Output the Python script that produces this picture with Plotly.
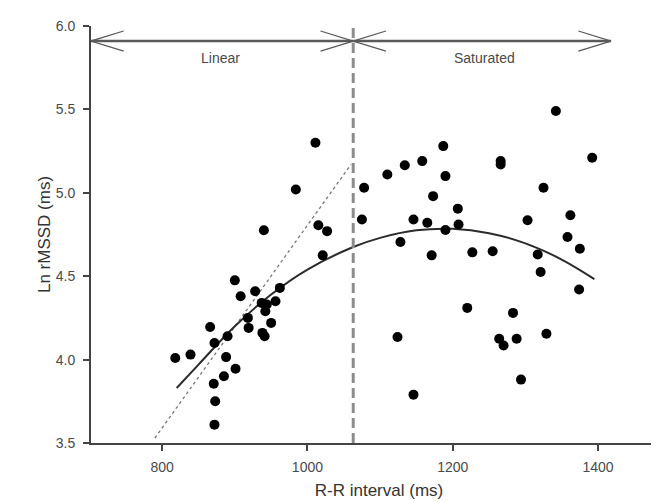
import plotly.graph_objects as go

# scatter data
rr_interval = [818, 839, 866, 872, 871, 873, 872, 885, 888, 890,
               900, 901, 908, 918, 919, 928, 937, 944, 942, 938,
               941, 950, 956, 962, 940, 984, 1011, 1015, 1027, 1021,
               1075, 1078, 1110, 1124, 1128, 1134, 1146, 1146, 1158, 1165,
               1171, 1173, 1187, 1190, 1190, 1207, 1208, 1220, 1227, 1255,
               1264, 1266, 1266, 1270, 1283, 1288, 1294, 1303, 1317, 1321,
               1325, 1329, 1342, 1358, 1362, 1374, 1375, 1392]
ln_rmssd = [4.01, 4.03, 4.195, 4.10, 3.855, 3.75, 3.61, 3.90, 4.015, 4.14,
            4.475, 3.945, 4.38, 4.25, 4.19, 4.41, 4.34, 4.33, 4.29, 4.16,
            4.14, 4.22, 4.35, 4.43, 4.775, 5.02, 5.30, 4.805, 4.77, 4.625,
            4.84, 5.03, 5.11, 4.135, 4.705, 5.165, 4.84, 3.79, 5.19, 4.82,
            4.625, 4.98, 5.28, 5.10, 4.777, 4.905, 4.81, 4.31, 4.643, 4.65,
            4.125, 5.19, 5.17, 4.085, 4.28, 4.125, 3.88, 4.835, 4.63, 4.525,
            5.03, 4.155, 5.49, 4.735, 4.865, 4.42, 4.665, 5.21]

# quadratic fit curve
curve_x = [820, 850, 900, 950, 1000, 1063, 1100, 1150, 1200, 1250, 1300, 1350, 1395]
curve_y = [3.83, 3.97, 4.20, 4.39, 4.54, 4.675, 4.73, 4.775, 4.784, 4.758, 4.697, 4.60, 4.483]

# linear fit (dotted), end points
linear_x = [790, 1060]
linear_y = [3.53, 5.17]

breakpoint_x = 1063
x_left, x_right_arrow = 702, 1418
arrow_y = 5.91
region_labels = ["Linear", "Saturated"]
region_label_x = [880, 1244]

x_ticks = [800, 1000, 1200, 1400]
y_ticks = [3.5, 4.0, 4.5, 5.0, 5.5, 6.0]

fig = go.Figure()

fig.add_trace(go.Scatter(
    x=linear_x, y=linear_y, mode="lines",
    line=dict(color="#777777", width=1.3, dash="dot"),
    hoverinfo="skip",
))
fig.add_trace(go.Scatter(
    x=curve_x, y=curve_y, mode="lines",
    line=dict(color="#2b2b2b", width=2, shape="spline"),
    hoverinfo="skip",
))
fig.add_trace(go.Scatter(
    x=rr_interval, y=ln_rmssd, mode="markers",
    marker=dict(color="black", size=10),
))

# vertical breakpoint
fig.add_shape(type="line", x0=breakpoint_x, x1=breakpoint_x, y0=3.5, y1=6.02,
              line=dict(color="#8c8c8c", width=3, dash="10px,5px"))

# double-headed arrows at the top, open heads
head_dx, head_dy = 45, 0.06
for a, b in [(x_left, breakpoint_x), (breakpoint_x, x_right_arrow)]:
    fig.add_shape(type="line", x0=a, x1=b, y0=arrow_y, y1=arrow_y,
                  line=dict(color="#5a5a5a", width=2.5))
    for tip, sign in [(a, 1), (b, -1)]:
        for s in (1, -1):
            fig.add_shape(type="line", x0=tip, y0=arrow_y,
                          x1=tip + sign * head_dx, y1=arrow_y + s * head_dy,
                          line=dict(color="#5a5a5a", width=1.3))

for label, lx in zip(region_labels, region_label_x):
    fig.add_annotation(x=lx, y=5.81, text=label, showarrow=False,
                       font=dict(size=14, color="#4a4a4a"))

axis_style = dict(
    showline=True, linecolor="#444444", linewidth=2,
    ticks="outside", ticklen=6, tickwidth=1.5, tickcolor="#444444",
    showgrid=False, zeroline=False,
    tickfont=dict(size=14, color="#4a4a4a"),
)

fig.update_layout(
    width=659, height=502,
    margin=dict(l=83, r=0, t=18, b=67),
    plot_bgcolor="white", paper_bgcolor="white",
    showlegend=False,
    font=dict(family="Liberation Sans, Arial, sans-serif"),
    xaxis=dict(range=[x_left, 1495], tickvals=x_ticks, ticklabelstandoff=4,
               title=dict(text="R-R interval (ms)", font=dict(size=17, color="#333333"), standoff=10),
               **axis_style),
    yaxis=dict(range=[3.5, 6.0], tickvals=y_ticks, tickformat=".1f", ticklabelstandoff=5,
               title=dict(text="Ln rMSSD (ms)", font=dict(size=17, color="#333333"), standoff=1),
               **axis_style),
)

fig.write_html("out.html")
